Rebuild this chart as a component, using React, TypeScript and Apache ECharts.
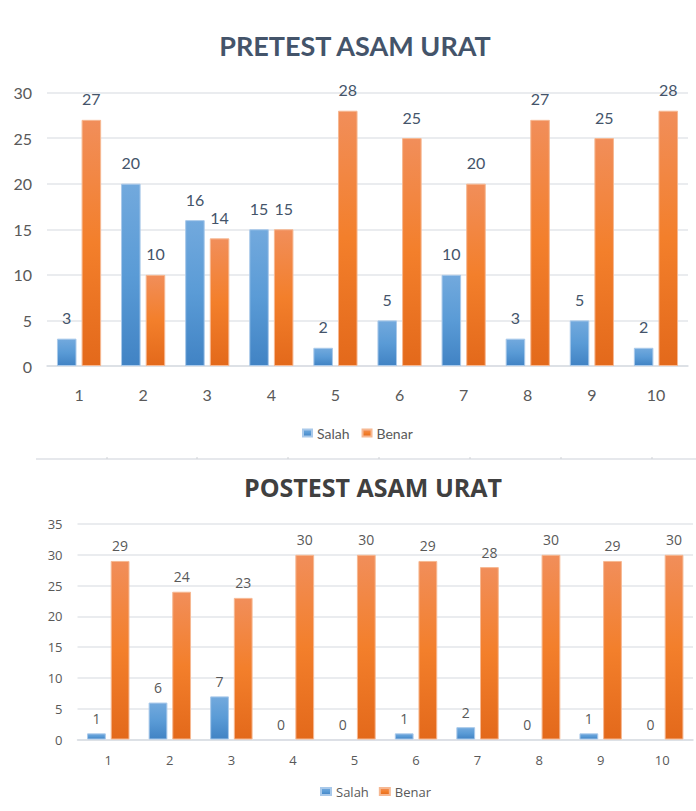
import React, { useEffect, useRef } from "react";
import * as echarts from "echarts";

const categories = ["1", "2", "3", "4", "5", "6", "7", "8", "9", "10"];
const seriesNames = ["Salah", "Benar"];
const preSalah = [3, 20, 16, 15, 2, 5, 10, 3, 5, 2];
const preBenar = [27, 10, 14, 15, 28, 25, 20, 27, 25, 28];
const postSalah = [1, 6, 7, 0, 0, 1, 2, 0, 1, 0];
const postBenar = [29, 24, 23, 30, 30, 29, 28, 30, 29, 30];
const preTitle = "PRETEST ASAM URAT";
const postTitle = "POSTEST ASAM URAT";

const blueGrad = () =>
  new echarts.graphic.LinearGradient(0, 0, 0, 1, [
    { offset: 0, color: "#72a9dd" },
    { offset: 0.5, color: "#5a9bd6" },
    { offset: 1, color: "#4183c4" },
  ]);
const orangeGrad = () =>
  new echarts.graphic.LinearGradient(0, 0, 0, 1, [
    { offset: 0, color: "#f18e5a" },
    { offset: 0.5, color: "#f37f2b" },
    { offset: 1, color: "#e3691b" },
  ]);

export default function App() {
  const ref = useRef<HTMLDivElement>(null);
  useEffect(() => {
    if (!ref.current) return;
    const chart = echarts.init(ref.current, null, { renderer: "svg" });
    const topFont = "Lato";
    const botFont = "Open Sans";
    const mkBar = (
      name: string,
      data: number[],
      idx: number,
      color: any,
      border: string,
      font: string,
      size: number,
      dist: number,
      labelColor: string
    ) => ({
      name,
      type: "bar",
      xAxisIndex: idx,
      yAxisIndex: idx,
      data: data.map((v) => (v === 0 ? { value: v, itemStyle: { borderWidth: 0 } } : v)),
      barWidth: "30.5%",
      barGap: "26%",
      itemStyle: { color, borderColor: border, borderWidth: 1 },
      label: {
        show: true,
        position: "top",
        distance: dist,
        fontFamily: font,
        fontSize: size,
        color: labelColor,
      },
    });
    chart.setOption({
      animation: false,
      title: [
        {
          text: preTitle,
          left: 355,
          top: 32,
          textAlign: "center",
          padding: 0,
          textStyle: { fontFamily: topFont, fontWeight: "bold", fontSize: 27, color: "#44546a" },
        },
        {
          text: postTitle,
          left: 373,
          top: 474,
          textAlign: "center",
          padding: 0,
          textStyle: { fontFamily: botFont, fontWeight: "bold", fontSize: 25, color: "#404040" },
        },
      ],
      legend: [
        {
          data: seriesNames,
          left: 297,
          top: 421,
          itemWidth: 9,
          itemHeight: 7,
          itemGap: 12,
          icon: "rect",
          textStyle: { fontFamily: topFont, fontSize: 14, color: "#595959" },
        },
        {
          data: seriesNames,
          left: 315,
          top: 780,
          itemWidth: 10,
          itemHeight: 7,
          itemGap: 10,
          icon: "rect",
          textStyle: { fontFamily: botFont, fontSize: 13, color: "#595959" },
        },
      ],
      grid: [
        { left: 47, right: 8, top: 92.5, bottom: 811 - 366, containLabel: false },
        { left: 77.5, right: 3, top: 524, bottom: 811 - 739.5, containLabel: false },
      ],
      xAxis: [
        {
          type: "category",
          gridIndex: 0,
          data: categories,
          axisLine: { lineStyle: { color: "#d9dde3", width: 1.5 } },
          axisTick: { show: false },
          axisLabel: { fontFamily: topFont, fontSize: 16, color: "#595959", margin: 20 },
        },
        {
          type: "category",
          gridIndex: 1,
          data: categories,
          axisLine: { lineStyle: { color: "#d9dde3", width: 1.5 } },
          axisTick: { show: false },
          axisLabel: { fontFamily: botFont, fontSize: 13, color: "#595959", margin: 14 },
        },
      ],
      yAxis: [
        {
          type: "value",
          gridIndex: 0,
          min: 0,
          max: 30,
          interval: 5,
          axisLine: { show: false },
          axisTick: { show: false },
          splitLine: { lineStyle: { color: "#e3e6ea", width: 1.5 } },
          axisLabel: { fontFamily: topFont, fontSize: 16, color: "#595959", margin: 15 },
        },
        {
          type: "value",
          gridIndex: 1,
          min: 0,
          max: 35,
          interval: 5,
          axisLine: { show: false },
          axisTick: { show: false },
          splitLine: { lineStyle: { color: "#e3e6ea", width: 1.5 } },
          axisLabel: { fontFamily: botFont, fontSize: 13, color: "#595959", margin: 15 },
        },
      ],
      series: [
        mkBar("Salah", preSalah, 0, blueGrad(), "#a9c9ea", topFont, 16, 13, "#44546a"),
        mkBar("Benar", preBenar, 0, orangeGrad(), "#f6b892", topFont, 16, 13, "#44546a"),
        mkBar("Salah", postSalah, 1, blueGrad(), "#a9c9ea", botFont, 14, 8, "#595959"),
        mkBar("Benar", postBenar, 1, orangeGrad(), "#f6b892", botFont, 14, 8, "#595959"),
      ],
      graphic: [
        {
          type: "line",
          shape: { x1: 36, y1: 459, x2: 696, y2: 459 },
          style: { stroke: "#e6e8ec", lineWidth: 2 },
        },
        ...[107, 197, 288, 379, 470, 561, 652].map((x) => ({
          type: "line",
          shape: { x1: x, y1: 457, x2: x, y2: 459 },
          style: { stroke: "#cfd2d6", lineWidth: 1 },
        })),
      ],
    });
    return () => chart.dispose();
  }, []);
  return (
    <div
      ref={ref}
      style={{ position: "absolute", left: 0, top: 0, width: 696, height: 811, background: "#fff" }}
    />
  );
}
